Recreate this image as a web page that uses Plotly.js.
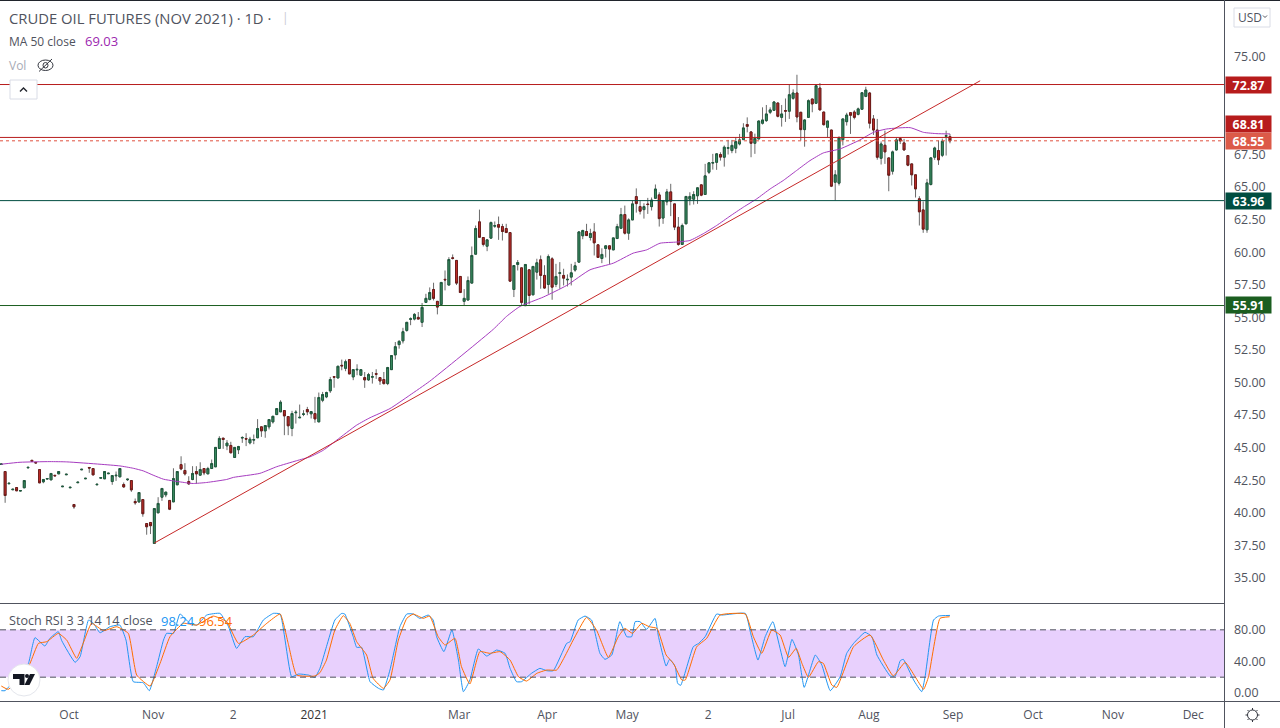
<!DOCTYPE html>
<html>
<head>
<meta charset="utf-8">
<title>Crude oil futures</title>
<script src="https://cdn.plot.ly/plotly-3.0.1.min.js"></script>
<style>
  html, body { margin: 0; padding: 0; background: #fff; }
  #chart { width: 1280px; height: 728px; }
</style>
</head>
<body>
<div id="chart"></div>
<script>
// one row = 10 bars (trading days, no weekends)
const barOpen = [
  43.71,43.17,42.23,41.77,41.94,41.67,41.92,43.45,44.03,43.87,
  43.32,42.38,42.59,42.53,42.88,42.99,42.0,42.92,41.92,40.64,
  42.31,43.3,42.61,43.48,43.4,42.15,42.66,42.61,43.0,42.4,
  42.84,42.76,42.17,42.54,42.48,40.87,40.84,41.02,39.18,39.26,
  37.65,40.0,41.2,41.38,40.95,40.84,42.15,43.7,43.25,42.4,
  42.56,43.17,42.89,43.4,42.99,43.4,43.53,44.94,45.73,45.14,
  45.17,44.25,44.84,45.74,45.7,45.37,45.58,45.76,46.6,46.29,
  46.6,46.98,47.54,47.75,47.85,47.39,46.47,47.68,47.29,47.55,
  47.93,47.6,47.62,46.98,48.64,48.9,49.36,50.45,50.35,51.32,
  51.09,51.76,50.43,50.97,50.56,50.38,50.2,50.41,50.68,50.38,
  50.23,49.92,50.99,52.12,52.91,53.2,54.0,54.85,54.87,55.0,
  54.62,56.15,56.38,57.14,56.23,55.99,57.92,57.48,59.57,59.37,
  58.14,56.23,56.33,57.63,59.85,62.33,61.13,60.46,61.08,62.0,
  62.12,61.97,61.82,61.51,57.14,59.06,58.8,55.9,58.65,56.73,
  58.47,59.42,58.22,57.53,59.49,57.53,58.38,58.22,57.88,58.09,
  58.63,59.24,61.26,61.59,61.13,61.56,60.57,59.52,60.29,60.49,
  60.18,61.05,61.84,62.89,61.46,62.48,64.27,63.5,63.27,63.7,
  63.5,64.14,64.4,62.62,63.87,64.63,63.71,61.93,60.6,62.18,
  64.07,64.07,64.33,65.17,64.43,66.14,66.84,66.9,67.5,67.29,
  67.98,67.8,67.98,68.31,68.64,69.8,69.23,68.36,68.69,69.9,
  70.1,70.74,70.89,71.45,70.35,70.87,70.82,71.81,72.22,70.74,
  69.41,70.35,71.76,71.43,72.6,70.76,69.59,69.38,65.37,65.3,
  68.64,70.02,70.71,70.76,70.58,70.97,71.96,72.22,70.23,69.38,
  67.21,68.21,67.24,66.22,67.85,68.72,68.39,67.42,66.78,65.94,
  64.1,63.25,61.72,65.2,67.29,67.8,67.44,68.9,68.87
];
const barHigh = [
  43.75,43.2,42.27,41.81,41.94,41.71,42.48,43.49,44.03,43.87,
  43.32,42.56,42.63,43.02,42.88,43.17,42.04,42.96,41.96,40.64,
  42.35,43.34,42.65,43.48,43.4,42.19,42.7,43.17,43.04,42.86,
  43.17,43.4,42.33,42.58,42.48,41.1,41.56,41.02,39.18,39.26,
  40.33,41.2,41.87,41.59,40.95,43.42,43.17,44.34,43.81,42.81,
  43.58,43.58,43.88,43.4,43.53,44.09,45.02,45.88,45.73,45.58,
  45.45,45.02,45.14,45.88,46.11,45.83,46.01,47.19,46.6,46.7,
  47.16,47.41,48.0,48.64,47.85,47.39,47.83,47.88,48.31,47.88,
  48.13,47.77,48.9,49.23,49.28,49.3,50.43,50.45,51.25,51.76,
  51.76,51.76,50.99,51.4,50.99,50.81,50.74,50.81,51.02,50.38,
  50.81,51.2,52.07,53.11,53.25,54.2,54.62,55.0,55.33,55.41,
  56.1,56.81,57.3,57.66,56.23,57.68,58.6,59.62,59.83,59.37,
  58.14,57.17,58.14,60.44,62.05,63.27,61.13,60.95,62.36,62.36,
  62.74,62.18,62.18,61.51,58.98,59.4,58.8,59.06,58.65,58.91,
  59.5,59.75,59.0,59.83,59.62,59.11,59.24,58.73,58.3,59.11,
  59.26,61.6,61.72,62.18,61.8,62.23,60.57,60.3,60.49,60.49,
  61.1,62.18,63.4,63.58,62.6,63.96,64.9,63.96,63.76,64.17,
  64.2,65.2,64.6,63.97,64.86,65.25,63.71,62.7,62.2,64.3,
  64.6,64.68,65.0,65.2,66.78,66.92,67.55,67.6,67.67,68.2,
  68.62,68.62,68.82,69.08,69.9,70.35,69.3,69.1,70.1,71.12,
  71.3,71.12,71.6,71.5,71.3,71.8,72.86,72.5,73.62,70.74,
  70.2,71.73,71.76,72.86,72.98,70.76,70.07,69.38,66.3,68.9,
  70.23,70.7,70.71,70.9,71.1,72.24,72.7,72.3,70.53,70.23,
  68.5,69.33,67.24,67.8,68.82,68.82,68.7,67.42,66.78,65.94,
  64.3,63.9,65.63,67.3,68.1,68.57,68.72,69.33,69.08
];
const barLow = [
  43.71,40.77,42.23,41.77,41.69,41.67,41.92,43.45,43.95,43.83,
  42.3,42.27,42.59,42.53,42.84,42.99,42.0,42.92,41.92,40.31,
  42.31,43.3,42.61,43.07,42.91,42.15,42.66,42.61,43.0,42.15,
  42.45,42.76,41.92,42.45,41.61,40.62,40.77,39.7,38.32,38.37,
  37.65,40.0,40.92,41.2,40.21,40.84,42.15,43.27,42.86,42.15,
  42.5,42.25,42.89,42.89,42.99,43.4,43.53,44.94,44.91,44.81,
  44.56,44.25,44.51,45.37,45.12,45.25,45.27,45.76,45.83,45.76,
  46.4,46.85,47.54,47.75,45.96,45.96,45.88,46.85,47.29,47.42,
  47.49,47.24,46.91,46.98,48.49,48.8,49.2,49.6,50.35,50.94,
  50.87,50.66,50.18,50.56,50.56,49.59,50.12,49.92,50.28,49.82,
  49.84,49.8,50.99,51.76,52.6,53.0,53.9,54.4,54.77,54.87,
  54.26,56.15,56.3,56.3,55.23,55.99,57.07,57.48,59.44,57.48,
  56.86,55.92,56.33,57.63,59.85,61.15,60.44,60.08,61.08,61.87,
  60.95,60.9,61.51,57.78,56.56,58.6,55.92,55.9,56.0,56.73,
  57.9,57.2,57.2,56.81,56.35,57.32,57.2,57.45,57.37,57.45,
  58.5,59.24,61.0,61.28,60.9,59.75,59.6,59.16,59.6,59.1,
  60.18,61.05,61.84,61.36,60.95,62.48,63.04,62.9,62.58,62.94,
  63.2,64.14,61.97,62.18,63.6,62.77,61.7,60.5,60.6,62.18,
  63.6,63.66,63.71,64.3,64.43,66.0,66.34,66.32,67.03,66.57,
  67.5,67.6,67.6,68.2,68.64,69.2,67.29,67.55,68.69,69.8,
  70.0,70.6,70.86,70.35,69.64,70.0,70.23,71.7,69.97,68.57,
  68.1,70.3,70.74,71.43,70.9,69.72,68.82,65.0,63.97,65.12,
  68.2,69.72,69.08,70.2,70.5,70.97,71.9,69.5,69.0,67.1,
  66.73,66.78,64.68,65.96,67.8,68.3,67.8,66.6,65.12,64.2,
  62.05,61.49,61.49,65.12,67.09,66.7,67.3,67.42,68.36
];
const barClose = [
  43.75,41.33,42.27,41.81,41.69,41.71,42.48,43.49,43.95,43.83,
  42.3,42.56,42.63,43.02,42.84,43.17,42.04,42.96,41.96,40.46,
  42.35,43.34,42.65,43.44,42.91,42.19,42.7,43.17,43.04,42.86,
  42.88,43.4,41.99,42.58,41.76,40.77,41.56,39.93,38.93,39.01,
  40.33,40.72,41.87,41.59,40.28,42.63,43.17,43.37,42.99,42.22,
  43.02,42.99,43.32,43.07,43.4,43.78,45.02,45.71,45.63,45.35,
  44.61,45.02,45.09,45.78,45.66,45.65,45.62,46.47,46.29,46.7,
  47.16,47.41,48.0,48.49,47.44,46.68,47.62,47.72,47.33,47.59,
  47.75,47.77,47.21,48.85,49.08,49.23,50.23,50.41,51.25,51.28,
  51.6,50.66,50.99,51.01,50.99,50.2,50.61,50.45,50.64,50.12,
  49.92,51.15,52.07,52.75,53.16,53.9,54.62,54.89,55.23,54.87,
  55.77,56.46,56.91,56.46,55.79,57.68,57.88,59.44,59.53,57.63,
  56.91,56.46,57.83,59.75,61.82,61.15,60.6,60.95,62.28,62.04,
  61.92,61.59,61.51,57.78,58.98,59.21,56.15,59.06,56.68,58.91,
  59.19,58.22,57.25,59.67,57.32,58.14,58.42,58.01,57.92,58.42,
  58.96,61.56,61.67,61.28,61.44,60.72,59.6,59.83,60.49,60.24,
  61.1,61.97,62.89,61.46,62.48,63.71,63.73,63.15,63.5,63.66,
  64.0,64.85,62.58,63.97,64.63,63.92,61.93,60.6,62.05,64.28,
  64.28,64.43,64.94,64.38,65.86,66.86,66.88,67.55,67.3,68.06,
  68.02,68.2,68.49,68.62,69.54,69.66,68.36,68.74,70.07,70.15,
  70.61,70.92,71.53,70.43,70.61,70.83,72.09,72.22,70.38,69.41,
  70.15,71.63,71.38,72.78,70.92,69.79,70.07,65.07,65.94,68.77,
  70.23,70.53,70.51,70.35,71.0,72.24,72.45,69.9,69.38,67.29,
  68.31,67.7,65.91,67.7,68.62,68.54,67.85,66.68,65.94,64.86,
  63.1,61.77,65.32,67.24,68.0,67.09,68.52,68.94,68.55
];
const barIndex = barOpen.map((_, i) => i);

// MA 50 close, vertices
const maX = [0,4.9,12.7,17.1,25.8,31,34.5,37.1,39.7,42.4,45,48.5,50.2,53.7,58.9,60.7,67.6,72,77.2,80.7,84.2,87.7,92.9,96.4,101.6,106.8,112,128.6,132.1,135.6,141.7,147.8,153.9,160,165.2,168.7,172.2,176.6,180,183.5,187,190.5,194,197.5,201,204.4,207.9,211.4,214.9,219.3,224.5,228,231.5,237.6,241.1,244.6,248];
const maY = [43.73,43.88,43.93,43.91,43.73,43.6,43.42,43.22,42.89,42.58,42.45,42.3,42.25,42.33,42.56,42.72,43.03,43.54,44,44.3,44.81,45.58,46.73,47.3,48,49.03,50.1,54.08,55.08,55.84,56.56,57.45,58.65,59.16,59.93,60.18,60.69,60.78,60.9,61.42,62.05,62.77,63.46,64.1,64.86,65.5,66.27,67.03,67.62,67.93,68.62,69.2,69.46,69.56,69.2,69.1,69.08];

// Stoch RSI K (blue) and D (orange), vertices
const stochKX = [0,1,1.8,4.9,7.1,8.8,11.4,12.7,14.9,15.8,19.3,20.6,22.8,24.1,25.8,28.4,31,32.6,34.5,37.1,38.7,40.6,42.4,43.2,45,46.7,49.3,51.1,53.7,57.2,59.4,61.5,63.7,65.9,68.5,71.1,72.9,75.9,77.7,80.3,82,83.3,85,87.2,89,89.8,92,92.9,94.2,96.4,98.6,99.9,101.6,104.2,106,107.7,109.4,111.6,112.9,113.8,115.7,117.8,119.5,120.8,122.5,124.7,126.9,129.5,131.7,133,134.7,136,138.6,140.8,142.6,144.3,147.8,148.7,150.8,152.6,154.3,156.5,157.8,159.6,161.7,163.5,164.8,165.7,167,168.7,170.9,171.8,173.8,174.7,176.2,176.8,177.6,180.9,182.3,184,187,188.4,194.5,195.8,197.8,199.7,201.7,204.9,206.7,208.4,209.9,212.8,214.5,216.7,219.3,221,222.8,225.8,227.6,228.9,232.4,233.7,235,235.8,238.5,240.6,241.5,243.7,245,248];
const stochKY = [2.9,2.9,7.1,20.6,37.5,70,59.5,69.2,77.6,66.2,38.8,46,92.4,88.2,76.3,83.9,86,67,14.3,13,2.9,33.3,67,75.5,75.5,100,88.2,86,98.7,100.8,83.9,56.5,71.3,71.3,92.4,100.8,100,20.6,24,22.7,19.8,31.2,58.6,92.4,100.8,100,71.3,57.8,57.8,14.3,5.9,3.8,29.1,83.9,100,100,94.5,98.7,92.4,71.3,52.3,79.7,41.7,1.6,16.4,55.7,46.8,54.4,50.2,31.2,14.3,14.3,24.9,31.2,28.2,28.2,62.8,65,92.4,97.4,92.4,50.2,42.6,48.1,90.3,71.3,71.3,90.3,90.3,80.6,94.5,71.3,34.1,42.6,33.3,12.2,9.7,58.6,62.8,71.3,100,98.7,100.8,77.6,41.7,71.3,90.3,33.3,67.9,48.1,7.1,48.1,35.4,2.9,20.6,50.2,62.8,76.8,71.3,48.1,21.5,21.5,40.9,42.6,16.4,1.6,20.6,92.4,97.4,98.24];
const stochDX = [0,1.8,4.9,7.5,9.7,11.9,14.9,17.1,19.7,21.4,23.6,26.7,30.2,33.2,35.4,38.9,41.5,44.1,47.6,51.1,55.4,58.9,62,65.9,69.4,72.9,75,77.2,82,83.3,85,87.2,89.4,91.1,92.9,95.5,97.2,99.9,101.6,103.8,106,107.7,110.3,112,114.2,116,118.6,120.3,122.5,125.1,127.7,130.4,133,135.2,137.3,140,142.6,145.2,149.5,153,155.6,158.7,161.3,163,165,167.4,169.4,171.4,173.8,175.7,177.9,178.8,181.8,184.4,187.9,194.5,196.6,198.8,201.4,203.6,205.8,207.8,209.3,211,213.6,214.9,217.1,218.4,222.8,227.1,230.6,233.2,236.3,238.9,241.1,242.4,245.4,247.9];
const stochDY = [8.8,4.6,18.5,37.5,62.8,65,75.5,67,43.9,62.8,88.2,78.9,83.9,75.5,22.7,8.8,37.5,71.3,88.2,86,97.4,90.3,62.8,73.4,88.2,100,62.8,22.7,21.5,25.7,41.7,79.7,97.9,88.2,65,48.1,18.5,5.9,16.4,67,94.5,100,94.5,97.4,71.3,60.7,69.2,33.3,11.4,52.3,50.2,52.3,41.7,20.6,15.1,24.9,29.1,29.1,67,95.8,79.7,45.1,71.3,81.8,75.5,88.2,83.9,81.8,48.1,37.5,16.4,16.4,58.6,69.2,98.7,100,71.3,50.2,79.7,73.4,45.1,56.5,37.5,19.8,39.6,37.5,10.1,7.1,58.6,73.4,41.7,21.5,38.8,20.6,4.6,20.6,94.5,96.54];

// trend line drawn on the chart (bar index, price)
const trendX = [40, 255.9];
const trendY = [37.68, 73.16];

// horizontal levels and their price tags
const levelPrices = [72.87, 68.81, 68.55, 63.96, 55.91];
const levelColors = ['#b71c1c', '#b71c1c', '#e0503f', '#004d40', '#1b5e20'];
const levelDash = ['solid', 'solid', 'dot', 'solid', 'solid'];
const tagColors = ['#b71c1c', '#b71c1c', '#dc5a48', '#004d40', '#1b5e20'];
const tagCenters = [84.5, 123.5, 140.5, 200.5, 305];

const priceTicks = [75, 67.5, 65, 62.5, 60, 57.5, 55, 52.5, 50, 47.5, 45, 42.5, 40, 37.5, 35];
const stochTicks = [0, 40, 80];
const timeTickPos = [17.7, 39.7, 60.6, 81.8, 119.7, 142.7, 163.6, 184.8, 205.7, 226.8, 248.8, 269.7, 290.6, 311.6];
const timeTickText = ['Oct', 'Nov', '2', '<span style="color:#333">2021</span>', 'Mar', 'Apr', 'May', '2', 'Jul', 'Aug', 'Sep', 'Oct', 'Nov', 'Dec'];

const W = 1280, H = 728, mL = 0, mR = 55, mT = 1, mB = 28;
const FONT = '"Open Sans", "Noto Sans", sans-serif';
const TXT = '#50535e';
// page pixels -> paper coordinates, only for the chrome around the plot
const px = x => (x - mL) / (W - mL - mR);
const py = y => 1 - (y - mT) / (H - mT - mB);
const pathOf = pts => pts.map((p, i) => (i ? 'L' : 'M') + px(p[0]) + ',' + py(p[1])).join(' ');

const green = '#3d8f63', greenEdge = '#1d5a3d', red = '#c62f2a', redEdge = '#6d1a18';
const wicks = {
  type: 'candlestick', x: barIndex, open: barOpen, high: barHigh, low: barLow, close: barClose,
  width: 0.6, whiskerwidth: 0, hoverinfo: 'skip', showlegend: false, xaxis: 'x', yaxis: 'y',
  increasing: { line: { color: '#6a6a6a', width: 1 }, fillcolor: '#6a6a6a' },
  decreasing: { line: { color: '#6a6a6a', width: 1 }, fillcolor: '#6a6a6a' },
};
const bodies = {
  type: 'candlestick', x: barIndex, open: barOpen, close: barClose,
  high: barOpen.map((o, i) => Math.max(o, barClose[i])),
  low: barOpen.map((o, i) => Math.min(o, barClose[i])),
  width: 0.6, whiskerwidth: 0, hoverinfo: 'skip', showlegend: false, xaxis: 'x', yaxis: 'y',
  increasing: { line: { color: greenEdge, width: 1 }, fillcolor: green },
  decreasing: { line: { color: redEdge, width: 1 }, fillcolor: red },
};
const line = (x, y, color, yaxis, extra) => ({
  type: 'scatter', mode: 'lines', x, y, xaxis: 'x', yaxis, hoverinfo: 'skip', showlegend: false,
  line: Object.assign({ color, width: 1 }, extra),
});
const traces = [
  wicks, bodies,
  line(maX, maY, '#a63cc0', 'y', { shape: 'spline', smoothing: 0.5 }),
  line(trendX, trendY, '#c62828', 'y'),
  line(stochKX, stochKY, '#2196f3', 'y2', { shape: 'spline', smoothing: 0.4 }),
  line(stochDX, stochDY, '#ff6d00', 'y2', { shape: 'spline', smoothing: 0.4 }),
];

const chromeLine = { color: '#50535e', width: 1 };
const shapes = [
  { type: 'rect', xref: 'paper', yref: 'y2', x0: 0, x1: 1, y0: 20, y1: 80, fillcolor: '#e8d0fd', line: { width: 0 }, layer: 'below' },
  { type: 'line', xref: 'paper', yref: 'y2', x0: 0, x1: 1, y0: 80, y1: 80, line: { color: '#50535e', width: 1, dash: '6px,4px' } },
  { type: 'line', xref: 'paper', yref: 'y2', x0: 0, x1: 1, y0: 20, y1: 20, line: { color: '#50535e', width: 1, dash: '6px,4px' } },
  ...levelPrices.map((p, k) => ({ type: 'line', xref: 'paper', yref: 'y', x0: 0, x1: 1, y0: p, y1: p, line: { color: levelColors[k], width: 1, dash: levelDash[k] } })),
  // frame
  { type: 'line', xref: 'paper', yref: 'paper', x0: px(0), x1: px(W), y0: py(0.5), y1: py(0.5), line: { color: '#20242c', width: 1 } },
  { type: 'line', xref: 'paper', yref: 'paper', x0: px(1224.5), x1: px(1224.5), y0: py(0), y1: py(H), line: chromeLine },
  { type: 'line', xref: 'paper', yref: 'paper', x0: px(0), x1: px(1225), y0: py(603.5), y1: py(603.5), line: chromeLine },
  { type: 'line', xref: 'paper', yref: 'paper', x0: px(0), x1: px(W), y0: py(701.5), y1: py(701.5), line: chromeLine },
  // USD button
  { type: 'rect', xref: 'paper', yref: 'paper', x0: px(1234), x1: px(1270), y0: py(8), y1: py(27), line: { color: '#d9dce6', width: 1 }, fillcolor: '#fff' },
  { type: 'path', xref: 'paper', yref: 'paper', path: pathOf([[1263, 15.5], [1265, 17.5], [1267, 15.5]]), line: { color: '#50535e', width: 1 } },
  // collapse button
  { type: 'rect', xref: 'paper', yref: 'paper', x0: px(10), x1: px(37), y0: py(80), y1: py(99), line: { color: '#d9dce6', width: 1 }, fillcolor: '#fff' },
  { type: 'path', xref: 'paper', yref: 'paper', path: pathOf([[20, 91.5], [23.5, 88], [27, 91.5]]), line: { color: '#20242c', width: 1.4 } },
  // eye icon of Vol
  { type: 'circle', xref: 'paper', yref: 'paper', x0: px(38), x1: px(53), y0: py(60), y1: py(70.5), line: { color: '#33363f', width: 1 } },
  { type: 'circle', xref: 'paper', yref: 'paper', x0: px(43), x1: px(48), y0: py(62.5), y1: py(68), line: { color: '#33363f', width: 1 } },
  { type: 'line', xref: 'paper', yref: 'paper', x0: px(39), x1: px(52), y0: py(71.5), y1: py(59), line: { color: '#33363f', width: 1 } },
  // logo
  { type: 'circle', xref: 'paper', yref: 'paper', x0: px(8), x1: px(40), y0: py(664), y1: py(696), line: { color: '#e4e6ec', width: 1 }, fillcolor: '#fff' },
  { type: 'path', xref: 'paper', yref: 'paper', path: pathOf([[13, 674], [24.5, 674], [24.5, 685], [19.5, 685], [19.5, 679], [13, 679]]) + ' Z', fillcolor: '#131722', line: { width: 0 } },
  { type: 'circle', xref: 'paper', yref: 'paper', x0: px(25), x1: px(29), y0: py(674), y1: py(678), fillcolor: '#131722', line: { width: 0 } },
  { type: 'path', xref: 'paper', yref: 'paper', path: pathOf([[30, 674], [35, 674], [29.5, 685], [24.5, 685]]) + ' Z', fillcolor: '#131722', line: { width: 0 } },
  // gear
  { type: 'circle', xref: 'paper', yref: 'paper', x0: px(1247.5), x1: px(1257.5), y0: py(710), y1: py(720), line: { color: '#33363f', width: 1 } },
  { type: 'path', xref: 'paper', yref: 'paper', path: pathOf([[1252.5, 708], [1252.5, 710]]) + ' ' + pathOf([[1252.5, 720], [1252.5, 722]]) + ' ' + pathOf([[1245.5, 715], [1247.5, 715]]) + ' ' + pathOf([[1257.5, 715], [1259.5, 715]]) + ' ' + pathOf([[1247.5, 710], [1249, 711.5]]) + ' ' + pathOf([[1256, 718.5], [1257.5, 720]]) + ' ' + pathOf([[1257.5, 710], [1256, 711.5]]) + ' ' + pathOf([[1249, 718.5], [1247.5, 720]]), line: { color: '#33363f', width: 1 } },
];

const label = (x, y, text, size, color, extra) => Object.assign({
  xref: 'paper', yref: 'paper', x: px(x), y: py(y), text, showarrow: false, xanchor: 'left', yanchor: 'middle',
  font: { family: FONT, size, color }, borderpad: 0,
}, extra);
const annotations = [
  label(8, 17.5, 'CRUDE OIL FUTURES (NOV 2021) · 1D · ', 14.8, TXT),
  label(281, 17.5, '|', 12, '#c8cad2'),
  label(8, 41.5, 'MA 50 close', 12, TXT),
  label(84, 41.5, '69.03', 13, '#9c27b0'),
  label(8, 65.5, 'Vol', 12, '#a8abb6'),
  label(8, 620.5, 'Stoch RSI 3 3 14 14 close', 12.6, TXT),
  label(160, 620.5, '98.24', 13, '#2196f3'),
  label(198, 620.5, '96.54', 13, '#ff6d00'),
  label(1237, 17.5, 'USD', 12, TXT),
  ...levelPrices.map((p, k) => label(1225, tagCenters[k], '<b>' + p.toFixed(2) + '</b>', 12.4, '#fff', {
    bgcolor: tagColors[k], width: 45, height: 16, align: 'center',
  })),
];

const layout = {
  width: W, height: H, paper_bgcolor: '#fff', plot_bgcolor: '#fff', showlegend: false,
  margin: { l: mL, r: mR, t: mT, b: mB, pad: 0 },
  font: { family: FONT, size: 12, color: TXT },
  xaxis: {
    type: 'linear', anchor: 'y2', range: [-0.34, 319.9], rangeslider: { visible: false },
    tickmode: 'array', tickvals: timeTickPos, ticktext: timeTickText, ticks: '', showgrid: false, zeroline: false, showline: false,
    tickfont: { size: 12, color: TXT }, ticklabelstandoff: 6,
  },
  yaxis: {
    domain: [97 / 699, 1], anchor: 'x', side: 'right', range: [33.08, 79.28],
    tickmode: 'array', tickvals: priceTicks, ticktext: priceTicks.map(v => v.toFixed(2)), ticks: '',
    showgrid: false, zeroline: false, showline: false, tickfont: { size: 12.4, color: TXT }, ticklabelstandoff: 8,
  },
  yaxis2: {
    domain: [0, 96 / 699], anchor: 'x', side: 'right', range: [-8.9, 112.7],
    tickmode: 'array', tickvals: stochTicks, ticktext: stochTicks.map(v => v.toFixed(2)), ticks: '',
    showgrid: false, zeroline: false, showline: false, tickfont: { size: 12.4, color: TXT }, ticklabelstandoff: 8,
  },
  shapes, annotations,
};
Plotly.newPlot('chart', traces, layout, { displayModeBar: false, staticPlot: true });
</script>
</body>
</html>
